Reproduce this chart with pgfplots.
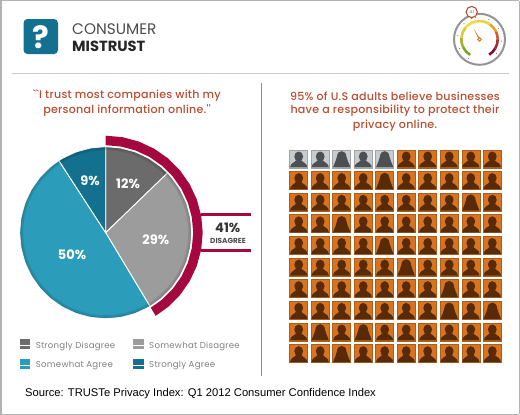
\documentclass[border=0pt]{standalone}
\usepackage{pgfplots}
\pgfplotsset{compat=1.18}
\usepackage{fontspec}
\setmainfont{Poppins}
\newfontfamily\med{Poppins Medium}
\newfontfamily\arial{Liberation Sans}
\definecolor{sdis}{HTML}{6B6B6B}
\definecolor{wdis}{HTML}{9C9C9C}
\definecolor{wagr}{HTML}{2B9CB9}
\definecolor{sagr}{HTML}{14708F}
\definecolor{magen}{HTML}{A5073F}
\definecolor{rust}{HTML}{B84E30}
\definecolor{orng}{HTML}{D9731F}
\definecolor{brn}{HTML}{572A08}
\definecolor{lgray}{HTML}{C9CCCE}
\definecolor{dgray}{HTML}{4C4F53}
\newcommand\fs[1]{\fontsize{#1}{#1}\selectfont}
\newcommand\personmark[4]{%
 \pgfdeclareplotmark{#1}{%
  \pgfsetfillcolor{#2}\pgfsetstrokecolor{#2!80!black}\pgfsetlinewidth{0.6pt}%
  \pgfpathrectanglecorners{\pgfpoint{-9pt}{-9pt}}{\pgfpoint{9pt}{9pt}}\pgfusepath{fill,stroke}%
  \pgfsetfillcolor{#3}%
  \ifnum#4=0
   \pgfpathellipse{\pgfpoint{0pt}{2.3pt}}{\pgfpoint{4.4pt}{0pt}}{\pgfpoint{0pt}{5pt}}\pgfusepath{fill}%
   \pgfpathmoveto{\pgfpoint{-8.6pt}{-8.6pt}}%
   \pgfpathcurveto{\pgfpoint{-8.6pt}{-4.4pt}}{\pgfpoint{-4pt}{-3.8pt}}{\pgfpoint{-2.6pt}{-1.5pt}}%
   \pgfpathlineto{\pgfpoint{2.6pt}{-1.5pt}}%
   \pgfpathcurveto{\pgfpoint{4pt}{-3.8pt}}{\pgfpoint{8.6pt}{-4.4pt}}{\pgfpoint{8.6pt}{-8.6pt}}%
  \else
   \pgfpathmoveto{\pgfpoint{-8.6pt}{-8.6pt}}%
   \pgfpathcurveto{\pgfpoint{-7.5pt}{-4pt}}{\pgfpoint{-5.2pt}{-2pt}}{\pgfpoint{-4.8pt}{2pt}}%
   \pgfpathcurveto{\pgfpoint{-4.5pt}{9.5pt}}{\pgfpoint{4.5pt}{9.5pt}}{\pgfpoint{4.8pt}{2pt}}%
   \pgfpathcurveto{\pgfpoint{5.2pt}{-2pt}}{\pgfpoint{7.5pt}{-4pt}}{\pgfpoint{8.6pt}{-8.6pt}}%
  \fi
  \pgfpathclose\pgfusepath{fill}%
 }}
\personmark{om}{orng}{brn}{0}
\personmark{of}{orng}{brn}{1}
\personmark{gm}{lgray}{dgray}{0}
\personmark{gf}{lgray}{dgray}{1}
\begin{document}
\begin{tikzpicture}
\useasboundingbox (0,0) rectangle (520pt,415pt);
% pie axis: origin at the pie's centre
\begin{axis}[name=pie,at={(0,0)},anchor=south west,width=520pt,height=415pt,scale only axis,hide axis,clip=false,
 xmin=-105.7,xmax=414.3,ymin=-182.3,ymax=232.7,
 legend columns=2,legend cell align=left,
 legend style={at={(axis cs:-86.5,-106)},anchor=north west,draw=none,fill=none,inner sep=0pt,
   font=\fs{8.6}\addfontfeature{LetterSpace=3},text=black!50,row sep=7.2pt,
   /tikz/every even column/.append style={column sep=15.5pt}},
 legend image code/.code={\fill[#1,draw=none] (0pt,-3.6pt) rectangle (10.5pt,6.6pt);\path (0pt,0pt) -- (13.5pt,0pt);},
]
\addplot[fill=sdis,draw=white,line width=0.9pt] coordinates {(0,0)(0,86)(14.93,84.69)(29.41,80.81)(43,74.48)(55.28,65.88)(61.86,59.74)} --cycle;
\addlegendentry{Strongly Disagree}
\addplot[fill=wdis,draw=white,line width=0.9pt] coordinates {(0,0)(61.86,59.74)(65.88,55.28)(74.48,43)(80.81,29.41)(84.69,14.93)(86,0)(84.69,-14.93)(80.81,-29.41)(74.48,-43)(65.88,-55.28)(55.28,-65.88)(44.29,-73.72)} --cycle;
\addlegendentry{Somewhat Disagree}
\addplot[fill=wagr,draw=white,line width=0.9pt] coordinates {(0,0)(44.29,-73.72)(43,-74.48)(29.41,-80.81)(14.93,-84.69)(0,-86)(-14.93,-84.69)(-29.41,-80.81)(-43,-74.48)(-55.28,-65.88)(-65.88,-55.28)(-74.48,-43)(-80.81,-29.41)(-84.69,-14.93)(-86,0)(-84.69,14.93)(-80.81,29.41)(-74.48,43)(-65.88,55.28)(-55.28,65.88)(-46.84,72.13)} --cycle;
\addlegendentry{Somewhat Agree}
\addplot[fill=sagr,draw=white,line width=0.9pt] coordinates {(0,0)(-46.84,72.13)(-43,74.48)(-29.41,80.81)(-14.93,84.69)(0,86)} --cycle;
\addlegendentry{Strongly Agree}
% soft darker rim of the pie
\draw[black,opacity=0.10,line width=3pt] (axis cs:0,0) circle (84pt);
\draw[black,opacity=0.10,line width=1.2pt] (axis cs:0,0) circle (85pt);
% the 41% bracket round the two disagree slices
\addplot[fill=magen,draw=none,forget plot] coordinates {(0,97)(16.84,95.53)(33.17,91.15)(48.5,84)(62.35,74.31)(74.31,62.35)(84,48.5)(91.15,33.17)(95.53,16.84)(97,0)(95.53,-16.84)(91.15,-33.17)(84,-48.5)(74.31,-62.35)(62.35,-74.31)(49.96,-83.15)(45.07,-75)(56.24,-67.03)(67.03,-56.24)(75.78,-43.75)(82.22,-29.93)(86.17,-15.19)(87.5,0)(86.17,15.19)(82.22,29.93)(75.78,43.75)(67.03,56.24)(56.24,67.03)(43.75,75.78)(29.93,82.22)(15.19,86.17)(0,87.5)} --cycle;
\addplot[magen,line width=3.2pt,forget plot] coordinates {(95,18.2)(145.5,18.2)};
\addplot[magen,line width=3.2pt,forget plot] coordinates {(95,-18)(145.5,-18)};
\end{axis}
% page axis: picture pixels
\begin{axis}[at={(0,0)},anchor=south west,width=520pt,height=415pt,scale only axis,hide axis,clip=false,
 xmin=0,xmax=520,ymin=0,ymax=415,y dir=reverse]
\addplot[black!30,line width=1pt] coordinates {(519,0.8)(519,414)};
\addplot[black!30,line width=1pt] coordinates {(0,0.8)(519,0.8)};
\addplot[black!30,line width=1pt] coordinates {(0,414)(519,414)};
\addplot[black!30,line width=2pt] coordinates {(1,0)(1,415)};
\addplot[lgray,line width=0.7pt] coordinates {(12,73.5)(509,73.5)};
\addplot[black!45,line width=1.6pt] coordinates {(261.5,83)(261.5,376)};
\addplot[only marks,mark=gm] coordinates {(298.7,158.8)(320.2,158.8)(363.2,158.8)};
\addplot[only marks,mark=gf] coordinates {(341.7,158.8)(384.7,158.8)};
\addplot[only marks,mark=om] table {
406.2 158.8
427.7 158.8
449.2 158.8
470.8 158.8
492.3 158.8
298.7 180.4
320.2 180.4
341.7 180.4
363.2 180.4
406.2 180.4
427.7 180.4
449.2 180.4
470.8 180.4
492.3 180.4
298.7 202.1
320.2 202.1
341.7 202.1
363.2 202.1
384.7 202.1
406.2 202.1
427.7 202.1
449.2 202.1
492.3 202.1
298.7 223.7
320.2 223.7
363.2 223.7
384.7 223.7
406.2 223.7
427.7 223.7
449.2 223.7
470.8 223.7
492.3 223.7
298.7 245.3
320.2 245.3
341.7 245.3
363.2 245.3
406.2 245.3
427.7 245.3
449.2 245.3
470.8 245.3
492.3 245.3
298.7 266.9
320.2 266.9
341.7 266.9
363.2 266.9
384.7 266.9
427.7 266.9
449.2 266.9
470.8 266.9
492.3 266.9
298.7 288.5
320.2 288.5
341.7 288.5
363.2 288.5
384.7 288.5
406.2 288.5
427.7 288.5
470.8 288.5
492.3 288.5
298.7 310.2
320.2 310.2
341.7 310.2
363.2 310.2
384.7 310.2
406.2 310.2
427.7 310.2
470.8 310.2
298.7 331.8
341.7 331.8
384.7 331.8
406.2 331.8
427.7 331.8
449.2 331.8
470.8 331.8
492.3 331.8
298.7 353.5
320.2 353.5
363.2 353.5
384.7 353.5
406.2 353.5
427.7 353.5
449.2 353.5
470.8 353.5
492.3 353.5
};
\addplot[only marks,mark=of] table {
384.7 180.4
470.8 202.1
341.7 223.7
384.7 245.3
406.2 266.9
449.2 288.5
449.2 310.2
492.3 310.2
320.2 331.8
363.2 331.8
341.7 353.5
};
% header
\fill[sagr,rounded corners=4pt] (axis cs:23.5,19) rectangle (axis cs:58,54);
\node[text=white,inner sep=0] at (axis cs:40.8,37) {\fs{31}\bfseries ?};
\node[anchor=west,inner sep=0,text=black!70] at (axis cs:72,29.5) {\fs{15.3}CONSUMER};
\node[anchor=west,inner sep=0,text=black!85] at (axis cs:72,46.5) {\fs{14.7}\bfseries MISTRUST};
% headlines
\node[text=rust,inner sep=0] at (axis cs:127,96) {\fs{11.1}\med\addfontfeature{LetterSpace=2}``I trust most companies with my};
\node[text=rust,inner sep=0] at (axis cs:127,111) {\fs{11.1}\med\addfontfeature{LetterSpace=2}personal information online.''};
\node[text=rust,inner sep=0] at (axis cs:395,96) {\fs{11.1}\med\addfontfeature{LetterSpace=2}95\% of U.S adults believe businesses};
\node[text=rust,inner sep=0] at (axis cs:395,111) {\fs{11.1}\med\addfontfeature{LetterSpace=2}have a responsibility to protect their};
\node[text=rust,inner sep=0] at (axis cs:395,126) {\fs{11.1}\med\addfontfeature{LetterSpace=2}privacy online.};
% pie labels
\node[text=white,inner sep=0] at (axis cs:128,184) {\fs{13}\bfseries 12\%};
\node[text=white,inner sep=0] at (axis cs:155.7,240) {\fs{13}\bfseries 29\%};
\node[text=white,inner sep=0] at (axis cs:72,255) {\fs{13}\bfseries 50\%};
\node[text=white,inner sep=0] at (axis cs:90,180.7) {\fs{13}\bfseries 9\%};
\node[text=black!80,inner sep=0] at (axis cs:227.7,228) {\fs{13}\bfseries 41\%};
\node[text=black!70,inner sep=0] at (axis cs:228,241) {\fs{7.3}\bfseries DISAGREE};
% source
\node[anchor=west,inner sep=0,text=black] at (axis cs:25,393.5) {\arial\fs{11.2}Source: TRUSTe Privacy Index: Q1 2012 Consumer Confidence Index};
\end{axis}
% gauge
\begin{scope}[shift={(479.5pt,375.7pt)},x=1pt,y=1pt]
\draw[black!42,line width=2pt] (0,0) circle (25.5);
\foreach \a/\b/\c in {239/205/7FA32C,205/175/A4B62E,175/140/D3CF35,140/100/F0DE3C,100/55/EFD33A,55/25/E5A32F,25/0/D0602A,0/-30/A82A35,-30/-58/7D1138}
 {\definecolor{tmp}{HTML}{\c}\draw[tmp,line width=2.6pt] (\a:18.2) arc[start angle=\a,end angle=\b,radius=18.2];}
\foreach \a in {240,205,170,135,100,65,30,-5,-40}
 {\fill[black!55] (\a:22) circle (0.6);}
\fill[orng] (-1.1,0.6) -- (-6,11) -- (1.1,-0.6) -- cycle;
\draw[orng,fill=white,line width=0.9pt] (0,0) circle (1.9);
\draw[rust,fill=white,line width=1.1pt] (-7.8,27.3) circle (5.6);
\fill[rust] (-9.4,22) -- (-6.2,22) -- (-7.8,20.2) -- cycle;
\node[inner sep=0,text=black!70] at (-7.8,27.3) {\fs{3.8}4.1};
\end{scope}
\end{tikzpicture}
\end{document}
